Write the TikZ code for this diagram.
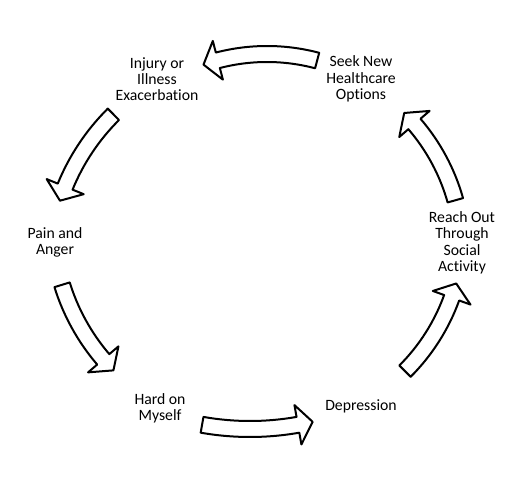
\documentclass[tikz,border=0pt]{standalone}
\usepackage{fontspec}
\setmainfont{Carlito}[Ligatures=NoCommon]
\begin{document}
\begin{tikzpicture}[
    stage/.style={align=center, inner sep=0pt,
                  font=\fontsize{11.8}{12.2}\selectfont},
    bigarr/.style={draw=black, fill=white, line width=1.5pt,
                   line join=round},
    x=0.75pt, y=0.75pt
  ]
  \useasboundingbox (0,0) rectangle (526,477);

  % Stages of the cycle
  \node[stage] (injury) at (157,398) {Injury or\\Illness\\Exacerbation};
  \node[stage] (seek) at (361,398) {Seek New\\Healthcare\\Options};
  \node[stage] (pain) at (55,234.5) {Pain and\\Anger};
  \node[stage] (reach) at (462,234.2) {Reach Out\\Through\\Social\\Activity};
  \node[stage] (hard) at (160,69) {Hard on\\Myself};
  \node[stage] (depr) at (361,70.3) {Depression};

  % Block arrows: centre x / centre y / radius / tail angle / head angle
  \foreach \cx/\cy/\rad/\ta/\ha in {267/228/195/75.1/104.6,
      267/208/218/134.8/157.8, 262.7/254.3/210/197.2/220.6,
      250/324/276/260/280, 263.6/247.3/200/315/340.1,
      262.8/222.6/200/15.7/40.7}{
    \pgfmathsetmacro{\hd}{\ha+15/\rad*57.3}
    \draw[bigarr] ([shift={(\cx,\cy)}]\ta:{\rad+8})
      arc[start angle=\ta, end angle=\ha, radius=\rad+8]
      -- ([shift={(\cx,\cy)}]\ha:{\rad+20})
      -- ([shift={(\cx,\cy)}]\hd:\rad)
      -- ([shift={(\cx,\cy)}]\ha:{\rad-20})
      -- ([shift={(\cx,\cy)}]\ha:{\rad-8})
      arc[start angle=\ha, end angle=\ta, radius=\rad-8]
      -- cycle;
  }
\end{tikzpicture}
\end{document}
